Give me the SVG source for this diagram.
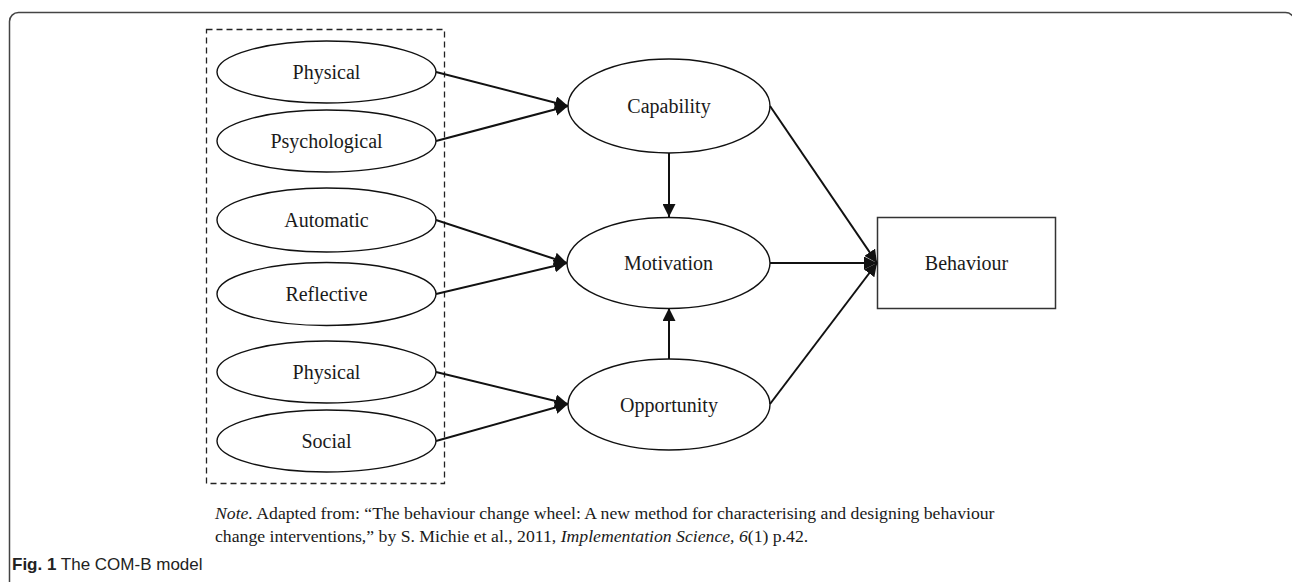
<svg xmlns="http://www.w3.org/2000/svg" width="1292" height="582" viewBox="0 0 1292 582">
<style>
.node ellipse{fill:#fff;stroke:#111;stroke-width:1.4}
.node rect{fill:#fff;stroke:#333;stroke-width:1.5}
.lbl{font-family:"Liberation Serif","Times New Roman",serif;font-size:20px;fill:#1a1a1a;text-anchor:middle;dominant-baseline:central}
.conn line{stroke:#111;stroke-width:2;marker-end:url(#ah)}
.note{font-family:"Liberation Serif","Times New Roman",serif;font-size:17.7px;fill:#1a1a1a}
.cap{font-family:"Liberation Sans",Arial,sans-serif;font-size:17px;fill:#222}
</style>
<defs>
<marker id="ah" markerUnits="userSpaceOnUse" markerWidth="14" markerHeight="13" refX="13" refY="6.5" orient="auto">
<path d="M0,0 L13,6.5 L0,13 z" fill="#111"/>
</marker>
</defs>
<rect width="1292" height="582" fill="#fff"/>
<rect x="9.5" y="12.5" width="1285" height="600" rx="9" fill="none" stroke="#444" stroke-width="1.5"/>
<rect id="group-box" x="206.5" y="29.5" width="238" height="454" fill="none" stroke="#222" stroke-width="1.3" stroke-dasharray="6,4"/>
<g id="n-physical1" class="node"><ellipse cx="326.5" cy="72" rx="109.5" ry="31"/><text class="lbl" x="326.5" y="72">Physical</text></g>
<g id="n-psychological" class="node"><ellipse cx="326.5" cy="141" rx="109.5" ry="31"/><text class="lbl" x="326.5" y="141">Psychological</text></g>
<g id="n-automatic" class="node"><ellipse cx="326.5" cy="220" rx="109.5" ry="32"/><text class="lbl" x="326.5" y="220">Automatic</text></g>
<g id="n-reflective" class="node"><ellipse cx="326.5" cy="294" rx="109.5" ry="31.5"/><text class="lbl" x="326.5" y="294">Reflective</text></g>
<g id="n-physical2" class="node"><ellipse cx="326.5" cy="372" rx="109.5" ry="31"/><text class="lbl" x="326.5" y="372">Physical</text></g>
<g id="n-social" class="node"><ellipse cx="326.5" cy="441" rx="109.5" ry="31"/><text class="lbl" x="326.5" y="441">Social</text></g>
<g id="n-capability" class="node"><ellipse cx="669" cy="106" rx="101" ry="47"/><text class="lbl" x="669" y="106">Capability</text></g>
<g id="n-motivation" class="node"><ellipse cx="668.5" cy="263" rx="101.5" ry="45.5"/><text class="lbl" x="668.5" y="263">Motivation</text></g>
<g id="n-opportunity" class="node"><ellipse cx="669" cy="404.5" rx="101" ry="45.5"/><text class="lbl" x="669" y="404.5">Opportunity</text></g>
<g id="n-behaviour" class="node"><rect x="877.5" y="217.5" width="178" height="91"/><text class="lbl" x="966.5" y="263">Behaviour</text></g>
<g id="connectors" class="conn">
<line x1="436" y1="72" x2="568" y2="106"/>
<line x1="436" y1="141" x2="568" y2="106"/>
<line x1="436" y1="220" x2="567" y2="263"/>
<line x1="436" y1="294" x2="567" y2="263"/>
<line x1="436" y1="372" x2="568" y2="404"/>
<line x1="436" y1="441" x2="568" y2="404"/>
<line x1="669" y1="153" x2="669" y2="217"/>
<line x1="669" y1="359" x2="669" y2="308"/>
<line x1="770" y1="106" x2="877" y2="263"/>
<line x1="770" y1="263" x2="877" y2="263"/>
<line x1="770" y1="404" x2="877" y2="263"/>
</g>
<text class="note" x="215" y="519"><tspan font-style="italic">Note.</tspan> Adapted from: “The behaviour change wheel: A new method for characterising and designing behaviour</text>
<text class="note" x="215" y="542">change interventions,” by S. Michie et al., 2011, <tspan font-style="italic">Implementation Science, 6</tspan>(1) p.42.</text>
<text class="cap" x="12" y="570"><tspan font-weight="bold">Fig. 1</tspan> The COM-B model</text>
</svg>
